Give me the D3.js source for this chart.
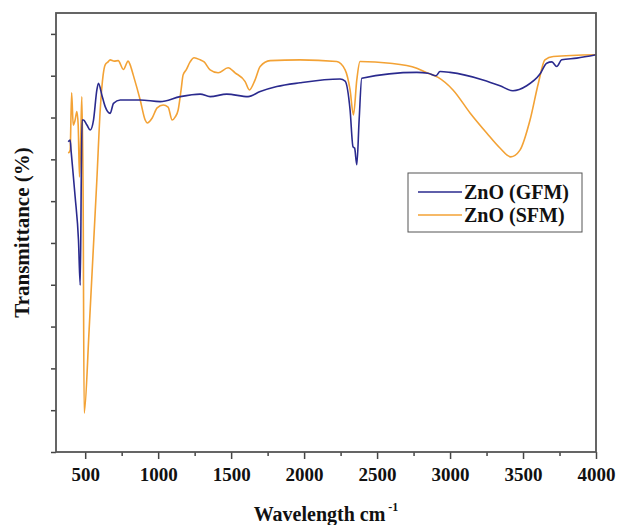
<!DOCTYPE html>
<html>
<head>
<meta charset="utf-8">
<script src="https://cdn.jsdelivr.net/npm/d3@7"></script>
<style>
    body { margin: 0; background: #fff; }
    text { font-family: "Liberation Serif", "Times New Roman", serif; font-weight: bold; fill: #111; }
</style>
</head>
<body>
<div id="chart"></div>
<script>
// FTIR spectra (wavenumber in cm-1, transmittance in arbitrary %)
const gfmWavenumber = [384, 397, 404, 431, 454, 466, 474, 479, 488, 512, 534, 557, 580, 591, 614, 637, 671, 694, 740, 877, 1014, 1151, 1288, 1356, 1470, 1616, 1699, 1813, 1972, 2246, 2281, 2315, 2335, 2346, 2361, 2377, 2395, 2772, 2849, 2904, 2931, 3000, 3226, 3342, 3431, 3525, 3616, 3662, 3698, 3731, 3765, 3868, 4000];
const gfmTransmittance = [74.2, 74.6, 71.8, 61.1, 50.7, 39.9, 68.0, 79.4, 79.4, 78.2, 77.0, 79.4, 86.6, 88.2, 85.4, 82.6, 81.0, 83.4, 84.2, 84.2, 83.8, 85.0, 85.6, 85.0, 85.6, 85.0, 86.2, 87.4, 88.3, 89.2, 88.7, 81.8, 73.0, 72.7, 68.7, 79.4, 89.4, 90.8, 90.6, 90.0, 91.0, 90.8, 89.0, 87.6, 86.4, 87.6, 90.4, 93.0, 93.3, 92.2, 93.8, 94.2, 95.0];

const sfmWavenumber = [384, 397, 407, 418, 431, 443, 452, 461, 469, 477, 486, 493, 527, 580, 603, 623, 637, 657, 671, 699, 726, 762, 794, 808, 829, 877, 911, 925, 959, 993, 1034, 1068, 1096, 1116, 1137, 1157, 1171, 1192, 1219, 1246, 1288, 1315, 1356, 1411, 1479, 1527, 1596, 1625, 1664, 1699, 1767, 1972, 2224, 2281, 2315, 2338, 2361, 2383, 2589, 2772, 2849, 2918, 3020, 3137, 3251, 3342, 3416, 3479, 3548, 3605, 3650, 3707, 4000];
const sfmTransmittance = [71.5, 72.2, 85.9, 78.2, 79.4, 81.4, 78.2, 65.8, 74.6, 85.0, 60.3, 9.3, 29.2, 65.1, 81.8, 90.2, 92.6, 93.3, 93.8, 93.5, 93.6, 91.5, 93.5, 92.6, 90.2, 84.2, 79.4, 78.7, 79.9, 82.3, 83.0, 82.5, 79.4, 80.1, 81.8, 86.6, 90.2, 91.4, 93.3, 94.3, 93.8, 93.3, 91.4, 90.7, 91.9, 90.7, 88.6, 86.6, 89.0, 92.2, 93.6, 93.8, 93.4, 91.4, 86.6, 80.6, 89.0, 93.4, 93.0, 91.8, 90.6, 89.6, 86.6, 81.1, 76.3, 72.7, 70.6, 72.2, 79.4, 88.2, 93.8, 94.6, 95.0];

const xTickValues = [500, 1000, 1500, 2000, 2500, 3000, 3500, 4000];
const xMinorTicks = [750, 1250, 1750, 2250, 2750, 3250, 3750];
const yTickValues = [0, 10, 20, 30, 40, 50, 60, 70, 80, 90, 100];

const seriesNames = ["ZnO (GFM)", "ZnO (SFM)"];
const seriesColors = ["#2a2a8e", "#f3a235"];

const width = 618, height = 525;
const margin = { top: 13, right: 22, bottom: 73, left: 56 };

const x = d3.scaleLinear()
    .domain([300, 4000])
    .range([margin.left, width - margin.right]);

const y = d3.scaleLinear()
    .domain([0, 105])
    .range([height - margin.bottom, margin.top]);

const svg = d3.select("#chart")
    .append("svg")
    .attr("width", width)
    .attr("height", height);

const series = [
    d3.zip(gfmWavenumber, gfmTransmittance),
    d3.zip(sfmWavenumber, sfmTransmittance)
];

const line = d3.line()
    .x(d => x(d[0]))
    .y(d => y(d[1]))
    .curve(d3.curveMonotoneX);

// draw GFM last so it sits on top like in the figure
svg.selectAll("path.spectrum")
    .data([1, 0])
    .enter()
    .append("path")
    .attr("class", "spectrum")
    .attr("d", i => line(series[i]))
    .attr("fill", "none")
    .attr("stroke", i => seriesColors[i])
    .attr("stroke-width", 1.6)
    .attr("stroke-linejoin", "round");

// axes
const gx = svg.append("g")
    .attr("transform", `translate(0,${height - margin.bottom})`)
    .call(d3.axisBottom(x).tickValues(xTickValues).tickFormat(d3.format("d")).tickSize(7).tickPadding(9));
gx.selectAll("text").style("font-size", "19px");

const gxMinor = svg.append("g")
    .attr("transform", `translate(0,${height - margin.bottom})`)
    .call(d3.axisBottom(x).tickValues(xMinorTicks).tickSize(4).tickFormat(""));

const gy = svg.append("g")
    .attr("transform", `translate(${margin.left},0)`)
    .call(d3.axisLeft(y).tickValues(yTickValues).tickSize(5).tickFormat(""));

[gx, gxMinor, gy].forEach(g => {
    g.select(".domain").remove();
    g.selectAll("line").attr("stroke", "#444").attr("stroke-width", 1.5);
});

svg.append("rect")
    .attr("x", margin.left)
    .attr("y", margin.top)
    .attr("width", width - margin.left - margin.right)
    .attr("height", height - margin.top - margin.bottom)
    .attr("fill", "none")
    .attr("stroke", "#555")
    .attr("stroke-width", 1.8);

// axis titles
const xTitle = svg.append("text")
    .attr("x", (margin.left + width - margin.right) / 2)
    .attr("y", 521)
    .attr("text-anchor", "middle")
    .style("font-size", "20px");
xTitle.append("tspan").text("Wavelength cm");
xTitle.append("tspan")
    .attr("dx", 3)
    .attr("dy", -10)
    .style("font-size", "12px")
    .text("-1");

svg.append("text")
    .attr("transform", `translate(29,${(margin.top + height - margin.bottom) / 2}) rotate(-90)`)
    .attr("text-anchor", "middle")
    .style("font-size", "21px")
    .text("Transmittance (%)");

// legend
const legend = svg.append("g").attr("transform", "translate(408,173)");
legend.append("rect")
    .attr("width", 174)
    .attr("height", 59)
    .attr("fill", "#fff")
    .attr("stroke", "#555")
    .attr("stroke-width", 1);

const items = legend.selectAll("g.item")
    .data(seriesNames)
    .enter()
    .append("g")
    .attr("class", "item")
    .attr("transform", (_, i) => `translate(0,${19 + i * 23})`);
items.append("line")
    .attr("x1", 10)
    .attr("x2", 54)
    .attr("stroke", (_, i) => seriesColors[i])
    .attr("stroke-width", 1.6);
items.append("text")
    .attr("x", 56)
    .attr("y", 7)
    .style("font-size", "20px")
    .text(d => d);
</script>
</body>
</html>
